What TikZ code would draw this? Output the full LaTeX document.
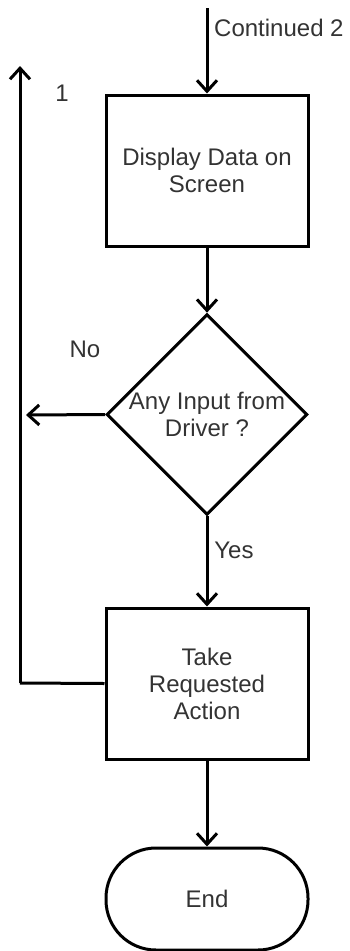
\documentclass[tikz,border=0pt]{standalone}
\usepackage{fontspec}
\setmainfont{Liberation Sans}
\usetikzlibrary{shapes.geometric,arrows.meta}
\begin{document}
\begin{tikzpicture}[x=1pt,y=-1pt,
  every node/.style={text=black!80, font=\fontsize{24}{27}\selectfont},
  procbox/.style={draw=black, line width=3pt, rectangle, minimum width=202pt, minimum height=151pt, align=center, inner sep=0pt},
  decbox/.style={draw=black, line width=3pt, diamond, minimum width=200pt, minimum height=197pt, align=center, inner sep=0pt},
  termbox/.style={draw=black, line width=3pt, rectangle, rounded corners=50pt, minimum width=202pt, minimum height=102pt, align=center, inner sep=0pt},
  flow/.style={draw=black, line width=3pt, -{Straight Barb[length=11pt,width=20pt,line width=3pt]}},
  plain/.style={draw=black, line width=3pt},
  lbl/.style={inner sep=0pt}
]
\useasboundingbox (0,0) rectangle (350,951);

\node[procbox] (disp) at (207,170.5) {Display Data on\\Screen};
\node[decbox] (dec) at (207,414.5) {Any Input from\\Driver ?};
\node[procbox] (act) at (207,683.5) {Take\\Requested\\Action};
\node[termbox] (fin) at (207,899) {End};

\coordinate (start) at (207,8);
\coordinate (noend) at (26,415);
\coordinate (corner) at (20,683);
\coordinate (looptop) at (20,66);

\draw[flow] (start) -- (disp.north);
\draw[flow] (disp.south) -- (dec.north);
\draw[flow] (dec.south) -- (act.north);
\draw[flow] (act.south) -- (fin.north);
\draw[flow] (dec.west) -- (noend);
\draw[plain] (act.west) -- (corner);
\draw[flow] (corner) -- (looptop);

\node[lbl, anchor=west] (lcont) at (214,28) {Continued 2};
\node[lbl] (lone) at (62,93) {1};
\node[lbl] (lno) at (85,349) {No};
\node[lbl] (lyes) at (234,550) {Yes};
\end{tikzpicture}
\end{document}
